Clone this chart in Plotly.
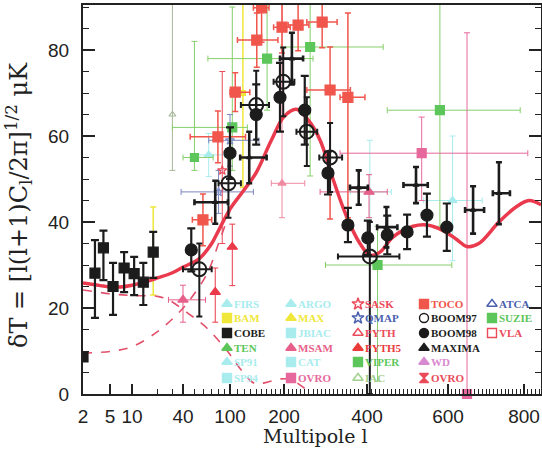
import numpy as np
import plotly.graph_objects as go

# ---------------- axis scale: logarithmic below l=200, linear above ----------------
SCALE_L = [2, 5, 10, 40, 100, 200, 400, 600, 800, 900]
SCALE_U = [0, 27, 49, 100, 147, 201, 284, 365, 441, 479]


def lscale(l):
    l = np.atleast_1d(np.asarray(l, dtype=float))
    lo = np.interp(np.log(l), np.log(SCALE_L[:6]), SCALE_U[:6])
    hi = np.interp(l, SCALE_L[5:], SCALE_U[5:])
    return np.where(l <= 200, lo, hi)


XTICK_L = [2, 5, 10, 40, 100, 200, 400, 600, 800]
XMINOR_L = [20, 30, 50, 60, 70, 80, 90] + [v for v in range(110, 850, 10) if v not in XTICK_L]
YTICKS = [0, 20, 40, 60, 80]

# ---------------- theory curves ----------------
TOT_L = [2, 3, 4, 5, 7, 10, 15, 20, 30, 40, 55, 70, 80, 100, 120, 140, 170, 200, 230, 260,
         287, 318, 352, 383, 407, 432, 464, 514, 548, 588, 622, 650, 681, 734, 779, 813, 845]
TOT_T = [25.8, 25.4, 25.1, 24.9, 24.9, 25.3, 26.2, 27.0, 28.2, 29.5, 31.5, 35.0, 38.0, 43.0,
         47.5, 51.5, 59.0, 64.5, 66.2, 63.5, 59.0, 50.0, 41.0, 35.0, 32.3, 33.0, 36.5, 39.0,
         39.3, 38.0, 36.0, 34.3, 35.0, 40.0, 43.5, 45.0, 44.0]

TENS_L = [2, 5, 10, 20, 27, 43, 64, 96, 118, 138, 160, 190, 215, 240, 262]
TENS_T = [24.2, 23.3, 22.9, 22.7, 21.9, 19.0, 15.3, 9.8, 5.1, 2.4, 2.7, 3.5, 3.4, 2.0, 0.3]

SCAL_L = [2, 5, 10, 20, 34, 46, 64, 80, 100]
SCAL_T = [9.5, 9.9, 11.0, 14.5, 18.5, 22.0, 28.0, 35.0, 42.5]

# ---------------- band-power data (l, value, down, up, l_low, l_high) ----------------
COBE_L = [2, 3, 4, 5.5, 7.8, 10.6, 13.6, 17.8]
COBE_T = [8.6, 28.1, 34.0, 25.0, 29.3, 28.0, 26.0, 33.0]
COBE_DN = [0, 10.4, 7.5, 6.6, 5.6, 5.0, 5.3, 6.0]
COBE_UP = [0, 7.7, 4.0, 5.5, 3.7, 3.9, 4.5, 4.7]

YEL_L = [17.8, 118]
YEL_T = [33.0, 70.0]
YEL_DN = [10.0, 22.0]
YEL_UP = [10.5, 21.0]

TEN_L = [50]
TEN_T = [55.0]
TEN_DN = [3.0]
TEN_UP = [27.0]
TEN_LLO = [40]
TEN_LHI = [72]

IAC_L = [30]
IAC_T = [65.0]
IAC_DN = [13.0]
IAC_UP = [30.0]

VIPER_L = [103, 161, 263, 426, 580]
VIPER_T = [62.0, 78.0, 80.7, 30.0, 66.0]
VIPER_DN = [10.0, 12.0, 30.0, 27.0, 27.0]
VIPER_UP = [28.0, 14.0, 12.0, 9.0, 25.0]
VIPER_LLO = [30, 65, 193, 300, 450]
VIPER_LHI = [125, 270, 440, 610, 790]

CYAN_L = [66, 407, 612]
CYAN_T = [55.6, 47.0, 45.0]
CYAN_DN = [5.0, 10.0, 14.0]
CYAN_UP = [5.0, 12.0, 15.0]
CYAN_LLO = [50, 360, 540]
CYAN_LHI = [90, 460, 690]

QMAP_L = [80, 100]
QMAP_T = [47.0, 59.0]
QMAP_DN = [5.0, 6.0]
QMAP_UP = [5.0, 6.0]
QMAP_LLO = [38, 66]
QMAP_LHI = [135, 145]

MSAM_L = [40, 405]
MSAM_T = [21.9, 47.0]
MSAM_DN = [5.2, 6.0]
MSAM_UP = [3.4, 4.0]
MSAM_LLO = [27, 287]
MSAM_LHI = [62, 450]

PYTH5_L = [75, 103]
PYTH5_T = [23.7, 34.2]
PYTH5_DN = [7.0, 9.0]
PYTH5_UP = [5.6, 5.3]

SASK_L = [86]
SASK_T = [52.0]
SASK_DN = [17.0]
SASK_UP = [23.0]

WD_L = [195]
WD_T = [49.0]
WD_DN = [8.0]
WD_UP = [45.0]
WD_LLO = [170]
WD_LHI = [250]

OVRO_L = [535, 650]
OVRO_T = [56.0, 0.0]
OVRO_DN = [11.0, 0.0]
OVRO_UP = [8.4, 84.0]
OVRO_LLO = [335, 650]
OVRO_LHI = [810, 650]

TOCO_L = [59, 79, 107, 141, 150, 195, 234, 292, 311, 354]
TOCO_T = [40.5, 59.8, 70.2, 82.3, 89.8, 85.3, 85.8, 86.5, 70.7, 69.0]
TOCO_DN = [6.0, 6.0, 4.5, 6.3, 8.0, 6.0, 6.0, 6.0, 30.0, 28.0]
TOCO_UP = [6.0, 6.0, 4.5, 6.3, 8.0, 6.0, 6.0, 6.0, 10.0, 19.6]
TOCO_LLO = [48, 46, 100, 110, 135, 175, 210, 255, 255, 335]
TOCO_LHI = [70, 122, 129, 185, 165, 215, 260, 328, 360, 395]

BOOM97_L = [55, 97, 140, 198, 255, 311, 407]
BOOM97_T = [29.0, 49.0, 67.2, 72.6, 61.0, 55.0, 32.0]
BOOM97_DN = [11.0, 8.0, 8.0, 8.0, 8.0, 8.0, 32.0]
BOOM97_UP = [6.0, 8.0, 8.0, 8.0, 8.0, 8.0, 8.0]
BOOM97_LLO = [40, 80, 115, 175, 230, 285, 330]
BOOM97_LHI = [70, 115, 165, 225, 280, 340, 480]

BOOM98_L = [47, 100, 140, 190, 250, 306, 354, 402, 450, 499, 548, 597]
BOOM98_T = [33.5, 56.0, 65.0, 69.0, 66.0, 51.4, 39.3, 36.3, 37.0, 37.7, 41.6, 38.8]
BOOM98_ERR = [5.0, 6.0, 7.0, 8.0, 8.0, 5.0, 4.0, 4.0, 4.5, 4.0, 5.0, 5.5]

MAXIMA_L = [75, 128, 219, 380, 448, 521, 666, 734]
MAXIMA_T = [44.6, 55.0, 78.0, 48.0, 38.8, 48.6, 42.8, 46.7]
MAXIMA_ERR = [5.0, 6.0, 6.0, 4.0, 4.7, 4.2, 5.5, 7.2]
MAXIMA_LLO = [50, 114, 190, 359, 425, 490, 645, 718]
MAXIMA_LHI = [96, 160, 246, 402, 475, 550, 695, 763]

# ---------------- legend entries ----------------
LEG_NAMES = [
    ["FIRS", "BAM", "COBE", "TEN", "SP91", "SP94"],
    ["ARGO", "MAX", "JBIAC", "MSAM", "CAT", "OVRO"],
    ["SASK", "QMAP", "PYTH", "PYTH5", "VIPER", "IAC"],
    ["TOCO", "BOOM97", "BOOM98", "MAXIMA", "WD", "OVRO"],
    ["ATCA", "SUZIE", "VLA"],
]
LEG_SYMBOLS = [
    ["triangle-up", "square", "square", "triangle-up", "triangle-up", "square"],
    ["triangle-up", "triangle-up", "square", "triangle-up", "square", "square"],
    ["star-open", "star-open", "triangle-up-open", "triangle-up", "square", "triangle-up-open"],
    ["square", "circle-open", "circle", "triangle-up", "triangle-up", "hourglass"],
    ["triangle-up-open", "square", "square-open"],
]

BLACK = "#1c1c1c"
RED = "#ea3a4e"
TOCO_C = "#f0564c"
PINKDASH = "#e2506c"
GREEN = "#5cc65a"
GREEN_BAR = "#86cf6a"
CYAN = "#a8ecee"
YELLOW = "#efe73a"
BLUE = "#4a5fae"
MAGENTA = "#e6689c"
PINK = "#f08aa0"
LTGREEN = "#9fcf8a"

LEG_COLORS = [
    [CYAN, YELLOW, BLACK, GREEN, CYAN, CYAN],
    [CYAN, YELLOW, CYAN, "#e6608a", CYAN, MAGENTA],
    ["#ea4a5a", BLUE, "#ea4a5a", "#ea3a3a", GREEN, LTGREEN],
    [TOCO_C, BLACK, BLACK, BLACK, "#d88ad0", "#ea4a5a"],
    [BLUE, GREEN, "#ea4a5a"],
]
LEG_COL_X = [227, 291, 358, 424, 492]      # pixel centres of legend markers
LEG_ROW_Y = [304, 318, 333, 348, 362, 378]

# plot frame in pixels
PL, PR, PT, PB = 83, 541, 5, 394
YMAX = (PB - PT) / 4.3

fig = go.Figure()


def add_exp(L, T, dn, up, color, symbol, size, bar_color=None, bar_w=1.0, cap=3,
            llo=None, lhi=None, line_w=1.2):
    x = lscale(L)
    bar_color = bar_color or color
    ey = dict(type="data", symmetric=False, array=up, arrayminus=dn,
              color=bar_color, thickness=bar_w, width=cap)
    kw = dict(error_y=ey)
    if llo is not None:
        ex = dict(type="data", symmetric=False,
                  array=list(lscale(lhi) - x), arrayminus=list(x - lscale(llo)),
                  color=bar_color, thickness=bar_w, width=cap)
        kw["error_x"] = ex
    fig.add_trace(go.Scatter(
        x=x, y=T, mode="markers", cliponaxis=(min(T) > 0.5),
        marker=dict(symbol=symbol, size=size, color=color,
                    line=dict(color=color, width=line_w)),
        showlegend=False, hoverinfo="skip", **kw))


# faint / coloured experiments (underneath)
add_exp(CYAN_L, CYAN_T, CYAN_DN, CYAN_UP, CYAN, "triangle-up", 8, llo=CYAN_LLO, lhi=CYAN_LHI)
add_exp(YEL_L, YEL_T, YEL_DN, YEL_UP, YELLOW, "square", 5, bar_w=1.5)
add_exp(IAC_L, IAC_T, IAC_DN, IAC_UP, "#a8b89a", "triangle-up-open", 6)
add_exp(TEN_L, TEN_T, TEN_DN, TEN_UP, GREEN, "square", 8, bar_color=GREEN_BAR, llo=TEN_LLO, lhi=TEN_LHI)
add_exp(VIPER_L, VIPER_T, VIPER_DN, VIPER_UP, GREEN, "square", 9, bar_color=GREEN_BAR,
        llo=VIPER_LLO, lhi=VIPER_LHI)
add_exp(QMAP_L, QMAP_T, QMAP_DN, QMAP_UP, "#8090c8", "star-open", 7, bar_color="#7c88c0",
        llo=QMAP_LLO, lhi=QMAP_LHI)
add_exp(OVRO_L, OVRO_T, OVRO_DN, OVRO_UP, MAGENTA, "square", 9, llo=OVRO_LLO, lhi=OVRO_LHI)
add_exp(WD_L, WD_T, WD_DN, WD_UP, PINK, "triangle-up", 7, llo=WD_LLO, lhi=WD_LHI)
add_exp(MSAM_L, MSAM_T, MSAM_DN, MSAM_UP, "#e6608a", "triangle-up", 9, llo=MSAM_LLO, lhi=MSAM_LHI)
add_exp(SASK_L, SASK_T, SASK_DN, SASK_UP, "#ea4a5a", "star-open", 7)
add_exp(PYTH5_L, PYTH5_T, PYTH5_DN, PYTH5_UP, "#ea3a4a", "triangle-up", 9)

# theory curves
fig.add_trace(go.Scatter(x=lscale(TENS_L), y=TENS_T, mode="lines", line_shape="spline",
                         line=dict(color=PINKDASH, width=1.6, dash="dash"),
                         showlegend=False, hoverinfo="skip"))
fig.add_trace(go.Scatter(x=lscale(SCAL_L), y=SCAL_T, mode="lines", line_shape="spline",
                         line=dict(color=PINKDASH, width=1.6, dash="dash"),
                         showlegend=False, hoverinfo="skip"))
fig.add_trace(go.Scatter(x=lscale(TOT_L), y=TOT_T, mode="lines", line_shape="spline",
                         line=dict(color=RED, width=3.5),
                         showlegend=False, hoverinfo="skip"))

# red TOCO and black experiments on top
add_exp(TOCO_L, TOCO_T, TOCO_DN, TOCO_UP, TOCO_C, "square", 10, bar_w=1.5,
        llo=TOCO_LLO, lhi=TOCO_LHI)
add_exp(COBE_L, COBE_T, COBE_DN, COBE_UP, BLACK, "square", 10, bar_w=2.2, cap=4)
add_exp(MAXIMA_L, MAXIMA_T, MAXIMA_ERR, MAXIMA_ERR, BLACK, "triangle-up", 5, bar_w=2.6, cap=3,
        llo=MAXIMA_LLO, lhi=MAXIMA_LHI)
add_exp(BOOM97_L, BOOM97_T, BOOM97_DN, BOOM97_UP, BLACK, "circle-open", 14, bar_w=2.0, cap=3,
        llo=BOOM97_LLO, lhi=BOOM97_LHI, line_w=2.0)
add_exp(BOOM98_L, BOOM98_T, BOOM98_ERR, BOOM98_ERR, BLACK, "circle", 12, bar_w=2.2, cap=4)

# ---------------- legend (markers on a pixel overlay axis, text as annotations) ----------------
lx, ly, ls, lc = [], [], [], []
annotations = []
for ci, col in enumerate(LEG_NAMES):
    for ri, name in enumerate(col):
        lx.append(LEG_COL_X[ci])
        ly.append(LEG_ROW_Y[ri])
        ls.append(LEG_SYMBOLS[ci][ri])
        lc.append(LEG_COLORS[ci][ri])
        annotations.append(dict(
            xref="paper", yref="paper",
            x=(LEG_COL_X[ci] + 5 - PL) / (PR - PL), y=(PB - LEG_ROW_Y[ri]) / (PB - PT),
            xanchor="left", yanchor="middle", showarrow=False,
            text="<b>" + name + "</b>",
            font=dict(family="Liberation Serif", size=11, color=LEG_COLORS[ci][ri])))

fig.add_trace(go.Scatter(x=lx, y=ly, xaxis="x3", yaxis="y3", mode="markers",
                         marker=dict(symbol=ls, size=9, color=lc, line=dict(color=lc, width=1.4)),
                         showlegend=False, hoverinfo="skip"))

# axis titles
annotations.append(dict(
    xref="paper", yref="paper", x=(315 - PL) / (PR - PL), y=(PB - 436) / (PB - PT),
    xanchor="center", yanchor="middle", showarrow=False, text="Multipole l",
    font=dict(family="DejaVu Serif", size=19, color="#222")))
annotations.append(dict(
    xref="paper", yref="paper", x=(18 - PL) / (PR - PL), y=(PB - 205) / (PB - PT),
    xanchor="center", yanchor="middle", showarrow=False, textangle=-90,
    text="δT = [l(l+1)C<sub>l</sub>/2π]<sup>1/2</sup> μK",
    font=dict(family="DejaVu Serif", size=24, color="#222")))

tickfont = dict(family="Liberation Sans", size=19, color="#222")

fig.update_layout(
    width=542, height=451,
    margin=dict(l=PL, r=542 - PR, t=PT, b=451 - PB, autoexpand=False),
    paper_bgcolor="white", plot_bgcolor="white",
    annotations=annotations,
    xaxis=dict(range=[0, PR - PL], tickmode="array", tickvals=list(lscale(XTICK_L)),
               ticktext=[str(v) for v in XTICK_L], ticks="inside", ticklen=10, tickwidth=1.5,
               tickcolor="#222", showline=True, linewidth=2, linecolor="#222", mirror=True,
               showgrid=False, zeroline=False, tickfont=tickfont, automargin=False,
               ticklabelstandoff=4,
               minor=dict(tickmode="array", tickvals=list(lscale(XMINOR_L)), ticks="inside",
                          ticklen=5, tickwidth=1, tickcolor="#222", showgrid=False)),
    yaxis=dict(range=[0, YMAX], tickmode="array", tickvals=YTICKS,
               ticks="inside", ticklen=12, tickwidth=1.5, tickcolor="#222",
               showline=True, linewidth=2, linecolor="#222", mirror="ticks",
               showgrid=False, zeroline=False, tickfont=tickfont, ticklabelstandoff=8,
               automargin=False,
               minor=dict(dtick=5, ticks="inside", ticklen=6, tickwidth=1,
                          tickcolor="#222", showgrid=False)),
    xaxis3=dict(range=[PL, PR], overlaying="x", visible=False, anchor="y3"),
    yaxis3=dict(range=[PB, PT], overlaying="y", visible=False, anchor="x3"),
)

fig.write_html("out.html", config={"displayModeBar": False},
               post_script="document.body.style.margin='0';")
